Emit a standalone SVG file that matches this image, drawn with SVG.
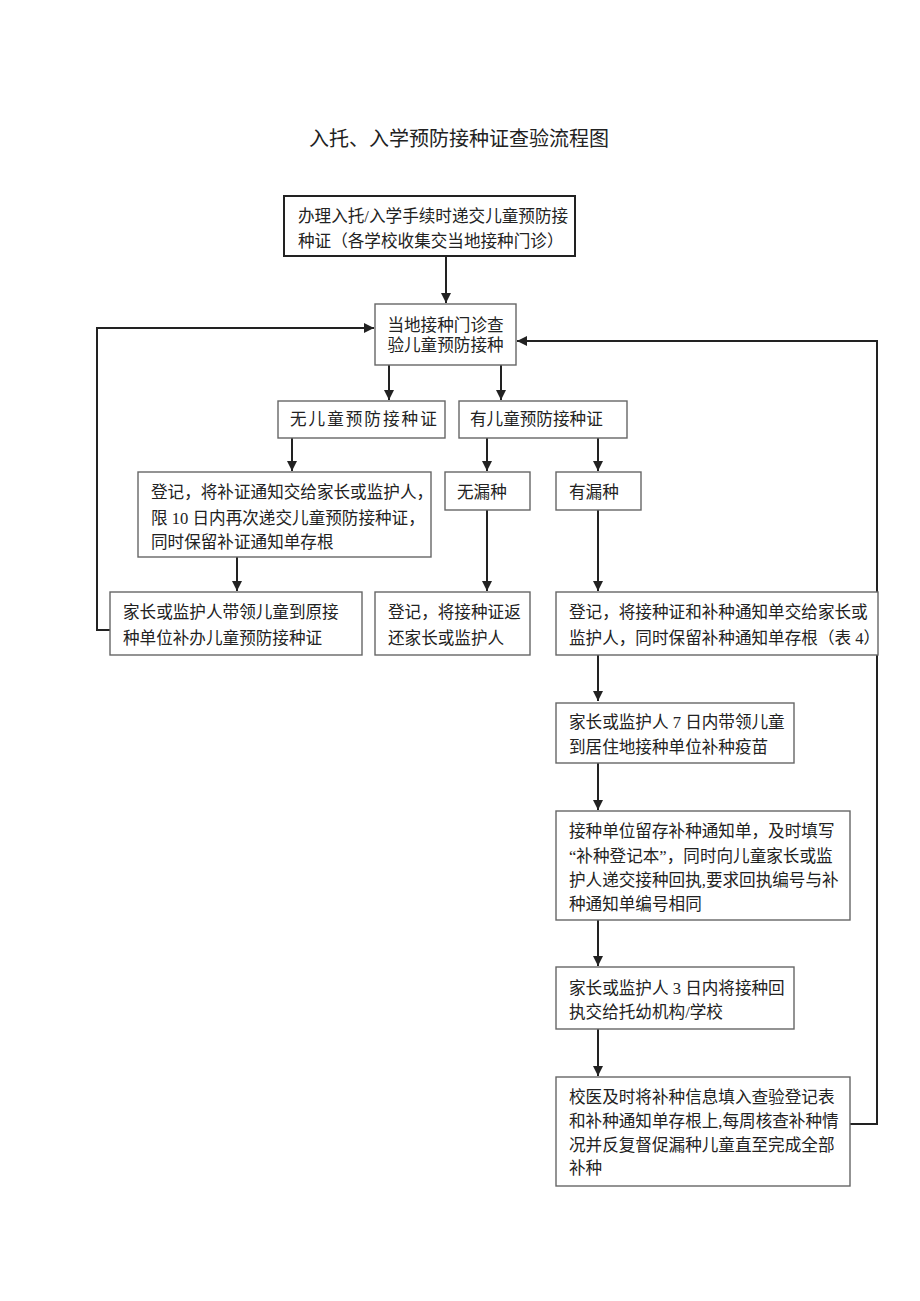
<svg xmlns="http://www.w3.org/2000/svg" width="920" height="1301" viewBox="0 0 920 1301">
<style>
.t{font-family:"Liberation Serif","Noto Sans CJK SC",serif;font-size:16.6px;fill:#222}
.title{font-family:"Liberation Serif","Noto Sans CJK SC",serif;font-size:20px;fill:#222}
.b{fill:#fff;stroke:#666;stroke-width:1.4}
.b1{fill:#fff;stroke:#222;stroke-width:2}
.c{fill:none;stroke:#222;stroke-width:2}
</style>
<defs>
<marker id="ah" viewBox="0 0 10 10" refX="10" refY="5" markerWidth="5" markerHeight="5" orient="auto" markerUnits="strokeWidth">
<path d="M0,0 L10,5 L0,10 Z" fill="#222"/>
</marker>
</defs>
<rect width="920" height="1301" fill="#fff"/>
<text class="title" x="459" y="146" text-anchor="middle">入托、入学预防接种证查验流程图</text>

<g id="connectors">
<line class="c" x1="446" y1="256" x2="446" y2="303" marker-end="url(#ah)"/>
<line class="c" x1="389" y1="365" x2="389" y2="400" marker-end="url(#ah)"/>
<line class="c" x1="501" y1="365" x2="501" y2="400" marker-end="url(#ah)"/>
<line class="c" x1="292" y1="438" x2="292" y2="471" marker-end="url(#ah)"/>
<line class="c" x1="487" y1="438" x2="487" y2="471" marker-end="url(#ah)"/>
<line class="c" x1="598" y1="438" x2="598" y2="471" marker-end="url(#ah)"/>
<line class="c" x1="237" y1="557" x2="237" y2="591" marker-end="url(#ah)"/>
<line class="c" x1="487" y1="510" x2="487" y2="591" marker-end="url(#ah)"/>
<line class="c" x1="598" y1="510" x2="598" y2="591" marker-end="url(#ah)"/>
<line class="c" x1="598" y1="655" x2="598" y2="701" marker-end="url(#ah)"/>
<line class="c" x1="598" y1="763" x2="598" y2="810" marker-end="url(#ah)"/>
<line class="c" x1="598" y1="920" x2="598" y2="966" marker-end="url(#ah)"/>
<line class="c" x1="598" y1="1029" x2="598" y2="1076" marker-end="url(#ah)"/>
<polyline class="c" points="110,630 97,630 97,328 374,328" marker-end="url(#ah)"/>
<polyline class="c" points="850,1124 877,1124 877,341 517,341" marker-end="url(#ah)"/>
</g>

<g id="n1"><rect class="b1" x="284" y="196" width="291" height="60"/>
<text class="t" x="298" y="222">办理入托/入学手续时递交儿童预防接</text>
<text class="t" x="298" y="247">种证（各学校收集交当地接种门诊）</text></g>

<g id="n2"><rect class="b" x="375" y="304" width="141" height="61"/>
<text class="t" x="445.5" y="331" text-anchor="middle">当地接种门诊查</text>
<text class="t" x="445.5" y="351" text-anchor="middle">验儿童预防接种</text></g>

<g id="n3"><rect class="b" x="278" y="401" width="167" height="37"/>
<text class="t" x="290" y="425" letter-spacing="2">无儿童预防接种证</text></g>

<g id="n4"><rect class="b" x="459" y="401" width="168" height="37"/>
<text class="t" x="470" y="425">有儿童预防接种证</text></g>

<g id="n5"><rect class="b" x="138" y="472" width="293" height="85"/>
<text class="t" x="151" y="498">登记，将补证通知交给家长或监护人，</text>
<text class="t" x="151" y="524">限 10 日内再次递交儿童预防接种证，</text>
<text class="t" x="151" y="548">同时保留补证通知单存根</text></g>

<g id="n6"><rect class="b" x="445" y="472" width="85" height="38"/>
<text class="t" x="457" y="498">无漏种</text></g>

<g id="n7"><rect class="b" x="556" y="472" width="85" height="38"/>
<text class="t" x="569" y="498">有漏种</text></g>

<g id="n8"><rect class="b" x="110" y="592" width="252" height="63"/>
<text class="t" x="123" y="618">家长或监护人带领儿童到原接</text>
<text class="t" x="123" y="644">种单位补办儿童预防接种证</text></g>

<g id="n9"><rect class="b" x="375" y="592" width="155" height="63"/>
<text class="t" x="388" y="618">登记，将接种证返</text>
<text class="t" x="388" y="644">还家长或监护人</text></g>

<g id="n10"><rect class="b" x="556" y="592" width="322" height="63"/>
<text class="t" x="569" y="618">登记，将接种证和补种通知单交给家长或</text>
<text class="t" x="569" y="644">监护人，同时保留补种通知单存根（表 4）</text></g>

<g id="n11"><rect class="b" x="556" y="703" width="238" height="60"/>
<text class="t" x="569" y="728">家长或监护人 7 日内带领儿童</text>
<text class="t" x="569" y="753">到居住地接种单位补种疫苗</text></g>

<g id="n12"><rect class="b" x="556" y="811" width="294" height="109"/>
<text class="t" x="569" y="837">接种单位留存补种通知单，及时填写</text>
<text class="t" x="569" y="862">“补种登记本”，同时向儿童家长或监</text>
<text class="t" x="569" y="886">护人递交接种回执,要求回执编号与补</text>
<text class="t" x="569" y="910">种通知单编号相同</text></g>

<g id="n13"><rect class="b" x="556" y="967" width="238" height="62"/>
<text class="t" x="569" y="994">家长或监护人 3 日内将接种回</text>
<text class="t" x="569" y="1018">执交给托幼机构/学校</text></g>

<g id="n14"><rect class="b" x="556" y="1077" width="294" height="109"/>
<text class="t" x="569" y="1103">校医及时将补种信息填入查验登记表</text>
<text class="t" x="569" y="1127">和补种通知单存根上,每周核查补种情</text>
<text class="t" x="569" y="1151">况并反复督促漏种儿童直至完成全部</text>
<text class="t" x="569" y="1174">补种</text></g>
</svg>
